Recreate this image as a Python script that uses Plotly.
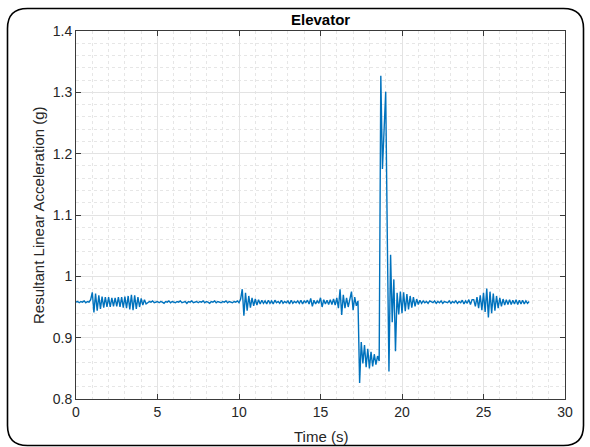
import numpy as np
import plotly.graph_objects as go

sample_step = 0.1

quiet_start = [0.958, 0.959, 0.957, 0.959, 0.958, 0.960, 0.957, 0.959, 0.958]
burst_1 = [0.962, 0.974, 0.941, 0.972, 0.944, 0.969, 0.947, 0.967, 0.949, 0.966,
           0.950, 0.966, 0.950, 0.965, 0.951, 0.965, 0.951, 0.966, 0.950, 0.966,
           0.949, 0.967, 0.948, 0.968, 0.946, 0.970, 0.945, 0.969, 0.947, 0.966,
           0.950, 0.964, 0.953, 0.962, 0.955]
quiet_mid = [0.957, 0.959, 0.958, 0.960, 0.957, 0.958, 0.959, 0.957, 0.959, 0.958,
             0.956, 0.959, 0.958, 0.960, 0.957, 0.959, 0.958, 0.957, 0.959, 0.958,
             0.960, 0.957, 0.958, 0.959, 0.956, 0.959, 0.958, 0.960, 0.957, 0.958,
             0.959, 0.957, 0.959, 0.958, 0.960, 0.957, 0.959, 0.958, 0.956, 0.959,
             0.958, 0.960, 0.957, 0.959, 0.958, 0.957, 0.959, 0.958, 0.960, 0.957,
             0.959, 0.958, 0.957, 0.959, 0.958, 0.960, 0.957]
burst_2 = [0.963, 0.979, 0.936, 0.973, 0.944, 0.968, 0.949, 0.965, 0.952, 0.963,
           0.953, 0.962, 0.955, 0.961, 0.956]
noise_walk = [0.960, 0.955, 0.961, 0.956, 0.960, 0.955, 0.961, 0.957, 0.959, 0.956,
              0.961, 0.956, 0.959, 0.957, 0.960, 0.955, 0.961, 0.956, 0.959, 0.957,
              0.960, 0.956, 0.961, 0.955, 0.960, 0.957, 0.961, 0.955, 0.964, 0.951,
              0.961, 0.955, 0.960, 0.956, 0.965, 0.950, 0.962, 0.955, 0.961, 0.954,
              0.962, 0.954, 0.963, 0.953]
burst_doors = [0.965, 0.948, 0.979, 0.937, 0.970, 0.948, 0.965, 0.950, 0.966, 0.975,
               0.945, 0.966, 0.952, 0.960]
low_plateau = [0.826, 0.893, 0.858, 0.888, 0.852, 0.882, 0.850, 0.877, 0.853, 0.873,
               0.856, 0.870, 0.862]
spike = [1.327, 1.175, 1.235, 1.301, 1.060, 0.845, 1.035, 0.925, 0.995, 0.878,
         0.973, 0.938, 0.975, 0.940, 0.974, 0.943, 0.971, 0.946, 0.968, 0.949,
         0.966, 0.951, 0.963, 0.954, 0.961]
quiet_late = [0.956, 0.960, 0.957, 0.959, 0.956, 0.960, 0.958, 0.957, 0.960, 0.956,
              0.959, 0.957, 0.960, 0.956, 0.959, 0.958, 0.957, 0.960, 0.956, 0.959,
              0.957, 0.960, 0.956, 0.959, 0.957, 0.961, 0.955, 0.960, 0.956, 0.962,
              0.954, 0.962]
burst_3 = [0.962, 0.951, 0.966, 0.948, 0.969, 0.945, 0.973, 0.942, 0.980, 0.933,
           0.975, 0.940, 0.972, 0.944, 0.968, 0.948, 0.965, 0.951, 0.963]
tail = [0.953, 0.962, 0.954, 0.962, 0.954, 0.961, 0.955, 0.962, 0.954, 0.961,
        0.955, 0.961, 0.955, 0.960, 0.956, 0.959]

accel = (quiet_start + burst_1 + quiet_mid + burst_2 + noise_walk + burst_doors
         + low_plateau + spike + quiet_late + burst_3 + tail)
time_s = np.round(np.arange(len(accel)) * sample_step, 2)

x_ticks = [0, 5, 10, 15, 20, 25, 30]
y_ticks = [0.8, 0.9, 1.0, 1.1, 1.2, 1.3, 1.4]
y_tick_text = ["0.8", "0.9", "1", "1.1", "1.2", "1.3", "1.4"]

# ---- layout geometry ----
W, H = 590, 447
ML, MR, MT, MB = 76, 25, 31, 48
PW, PH = W - ML - MR, H - MT - MB


def px(xp):
    return (xp - ML) / PW


def py(yp):
    return (H - MB - yp) / PH


FONT = "Liberation Sans, Arial, sans-serif"
TXT = "#262626"

fig = go.Figure()
fig.add_trace(go.Scatter(x=time_s, y=accel, mode="lines",
                         line=dict(color="#0072BD", width=1.4),
                         hoverinfo="skip", showlegend=False))

axis_common = dict(showline=True, linecolor="#3a3a3a", linewidth=1, mirror="ticks",
                   ticks="inside", ticklen=5, tickcolor="#3a3a3a", tickwidth=1,
                   showgrid=True, gridcolor="#e3e3e3", gridwidth=1, zeroline=False,
                   tickfont=dict(family=FONT, size=14, color=TXT))

fig.update_xaxes(range=[0, 30], tickvals=x_ticks, ticktext=[str(v) for v in x_ticks],
                 minor=dict(dtick=1, showgrid=True, gridcolor="#e6e6e6", griddash="dot",
                            ticks=""), **axis_common)
fig.update_yaxes(range=[0.8, 1.4], tickvals=y_ticks, ticktext=y_tick_text,
                 minor=dict(dtick=0.02, showgrid=True, gridcolor="#e6e6e6", griddash="dot",
                            ticks=""), **axis_common)

# rounded outer frame
x0, x1, y0, y1, r = 7.5, 583.5, 8.5, 445.5, 20
path = (f"M {px(x0 + r)} {py(y0)} L {px(x1 - r)} {py(y0)} "
        f"Q {px(x1)} {py(y0)} {px(x1)} {py(y0 + r)} "
        f"L {px(x1)} {py(y1 - r)} Q {px(x1)} {py(y1)} {px(x1 - r)} {py(y1)} "
        f"L {px(x0 + r)} {py(y1)} Q {px(x0)} {py(y1)} {px(x0)} {py(y1 - r)} "
        f"L {px(x0)} {py(y0 + r)} Q {px(x0)} {py(y0)} {px(x0 + r)} {py(y0)} Z")

fig.update_layout(
    width=W, height=H, autosize=False,
    margin=dict(l=ML, r=MR, t=MT, b=MB, pad=0),
    paper_bgcolor="white", plot_bgcolor="white",
    font=dict(family=FONT, color=TXT),
    shapes=[dict(type="path", xref="paper", yref="paper", path=path,
                 line=dict(color="black", width=1.6), layer="above")],
    annotations=[
        dict(text="<b>Elevator</b>", x=0.5, y=py(19), xref="paper", yref="paper",
             showarrow=False, font=dict(size=15, family=FONT, color="black"),
             xanchor="center", yanchor="middle"),
        dict(text="Time (s)", x=0.5, y=py(437), xref="paper", yref="paper",
             showarrow=False, font=dict(size=15, family=FONT, color=TXT),
             xanchor="center", yanchor="middle"),
        dict(text="Resultant Linear Acceleration (g)", x=px(38), y=0.5,
             xref="paper", yref="paper", textangle=-90, showarrow=False,
             font=dict(size=15, family=FONT, color=TXT),
             xanchor="center", yanchor="middle"),
    ],
)

fig.write_html("out.html", config={"displayModeBar": False},
               post_script="document.body.style.margin='0';")
